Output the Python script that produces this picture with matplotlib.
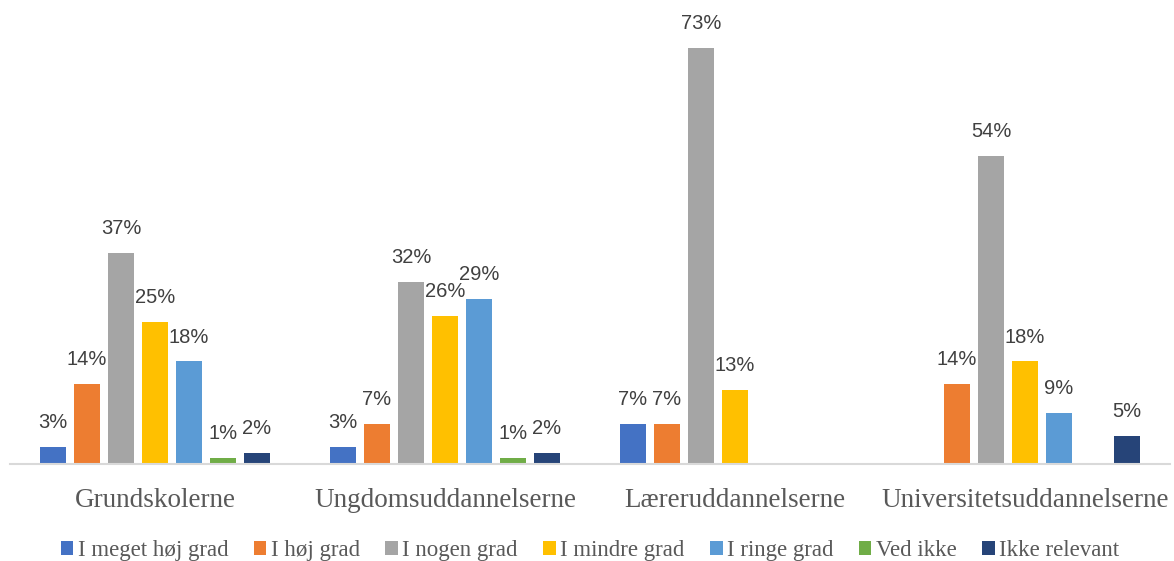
import numpy as np
import matplotlib.pyplot as plt

# ---------- Data ----------
categories = ["Grundskolerne", "Ungdomsuddannelserne", "Læreruddannelserne", "Universitetsuddannelserne"]
series = ["I meget høj grad", "I høj grad", "I nogen grad", "I mindre grad",
          "I ringe grad", "Ved ikke", "Ikke relevant"]
# None = no bar in that group
values = [
    [3, 3, 7, None],        # I meget høj grad
    [14, 7, 7, 14],         # I høj grad
    [37, 32, 73, 54],       # I nogen grad
    [25, 26, 13, 18],       # I mindre grad
    [18, 29, None, 9],      # I ringe grad
    [1, 1, None, None],     # Ved ikke
    [2, 2, None, 5],        # Ikke relevant
]
colors = ["#4472C4", "#ED7D31", "#A5A5A5", "#FFC000", "#5B9BD5", "#70AD47", "#264478"]

# ---------- Plot ----------
fig = plt.figure(figsize=(11.74, 5.61), dpi=100)
ax = fig.add_axes([10 / 1174, 1 - 464 / 561, 1160 / 1174, 456 / 561])

x = np.arange(len(categories))
step = 34 / 290
width = 26 / 290

for i, (name, vals, col) in enumerate(zip(series, values, colors)):
    offs = (i - 3) * step
    xs = [xi + offs for xi, v in zip(x, vals) if v is not None]
    ys = [v for v in vals if v is not None]
    bars = ax.bar(xs, ys, width=width, color=col, label=name, zorder=2)
    for b, v in zip(bars, ys):
        ax.text(b.get_x() + b.get_width() / 2, v + 2.6, f"{v}%",
                ha="center", va="bottom", fontsize=14.5,
                family="Liberation Sans", color="#404040")

ax.set_xlim(-0.5, len(categories) - 0.5)
ax.set_ylim(0, 80)
ax.set_yticks([])
ax.set_xticks(x)
ax.set_xticklabels(categories, family="Liberation Serif", fontsize=19.5, color="#595959")
ax.tick_params(axis="x", length=0, pad=17)
for s in ["top", "right", "left"]:
    ax.spines[s].set_visible(False)
ax.spines["bottom"].set_color("#D9D9D9")
ax.spines["bottom"].set_linewidth(1.5)

leg = ax.legend(loc="center", bbox_to_anchor=(0.5, -0.19), ncol=7, frameon=False,
                prop={"family": "Liberation Serif", "size": 16.5},
                handlelength=0.55, handleheight=0.55, handletextpad=0.2, columnspacing=1.1)
for t in leg.get_texts():
    t.set_color("#595959")

fig.savefig("out.png", dpi=100)
